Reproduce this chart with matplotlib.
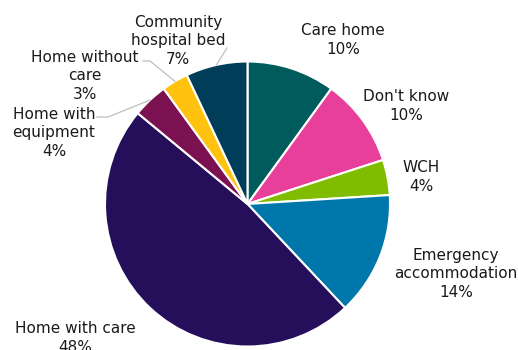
import matplotlib.pyplot as plt
import numpy as np

labels = ["Care home", "Don't know", "WCH", "Emergency\naccommodation", "Home with care",
          "Home with\nequipment", "Home without\ncare", "Community\nhospital bed"]
values = [10, 10, 4, 14, 48, 4, 3, 7]
colors = ["#005c5c", "#e8409a", "#80bc00", "#0077aa", "#250e5a", "#7b1150", "#ffc20e", "#003d58"]

# label centres in pixels (from top-left), and leader elbows where used
label_pos = [(343, 40), (406, 106), (421, 177), (456, 274), (75, 338),
             (54, 133), (85, 76), (178, 41)]
leaders = {5: [(108, 117), (97, 117)], 6: [(150, 61), (143, 61)], 7: [(227, 48)]}

W, H = 518, 350
cx, cy, rad = 247.5, 204, 142.5


def px(x, y):
    return ((x - cx) / rad, (cy - y) / rad)


fig = plt.figure(figsize=(W / 100, H / 100), dpi=100)
ax = fig.add_axes([0, 0, 1, 1])

wedges, _ = ax.pie(values, colors=colors, startangle=90, counterclock=False, radius=1,
                   wedgeprops=dict(edgecolor="white", linewidth=1.5))

# pie() resets the limits, so set them afterwards
ax.set_aspect("auto")
ax.set_xlim(-cx / rad, (W - cx) / rad)
ax.set_ylim(-(H - cy) / rad, cy / rad)
ax.axis("off")

for i, (lab, v) in enumerate(zip(labels, values)):
    tx, ty = px(*label_pos[i])
    ax.text(tx, ty, f"{lab}\n{v}%", ha="center", va="center", fontsize=11,
            color="#1a1a1a", linespacing=1.32)
    if i in leaders:
        w = wedges[i]
        mid = np.deg2rad((w.theta1 + w.theta2) / 2)
        pts = [(np.cos(mid), np.sin(mid))] + [px(*p) for p in leaders[i]]
        xs, ys = zip(*pts)
        ax.plot(xs, ys, color="#bfbfbf", linewidth=0.9)

fig.savefig("out.png", dpi=100)
